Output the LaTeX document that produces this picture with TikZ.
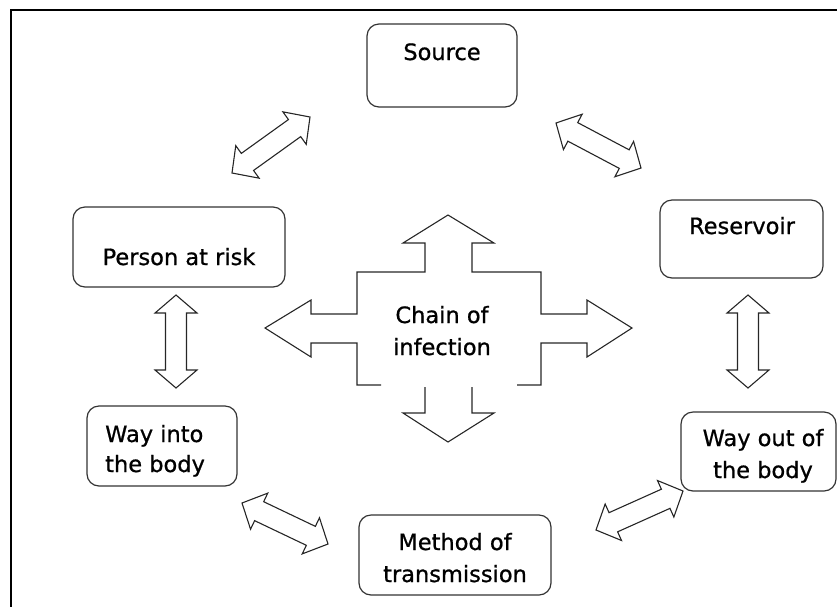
\documentclass[tikz,border=0pt]{standalone}
\usepackage{fontspec}
\setmainfont{DejaVu Sans}
\newfontfamily\lblfont[FakeBold=0.8]{DejaVu Sans}
\usetikzlibrary{calc}

\tikzset{
  box/.style={draw=black!80, line width=1.2pt, rounded corners=12pt, inner sep=0pt},
  lbl/.style={font=\lblfont\fontsize{22.5}{31}\selectfont, inner sep=0pt, anchor=base},
  lblw/.style={lbl, anchor=base west},
  blockline/.style={draw=black!85, line width=1.1pt, line join=miter, fill=white},
  frameline/.style={draw=black, line width=2pt},
}

% hollow double-headed block arrow between two named points
\def\bahead{19pt}
\def\bahw{20pt}
\def\basw{10.5pt}
\newcommand\blockarrow[2]{%
  \coordinate (ba1) at ($(#1)!\bahead!(#2)$);
  \coordinate (ba2) at ($(#2)!\bahead!(#1)$);
  \draw[blockline] (#1)
    -- ($(ba1)!\bahw!90:(#2)$) -- ($(ba1)!\basw!90:(#2)$)
    -- ($(ba2)!\basw!-90:(#1)$) -- ($(ba2)!\bahw!-90:(#1)$)
    -- (#2)
    -- ($(ba2)!\bahw!90:(#1)$) -- ($(ba2)!\basw!90:(#1)$)
    -- ($(ba1)!\basw!-90:(#2)$) -- ($(ba1)!\bahw!-90:(#2)$)
    -- cycle;
}

\begin{document}
\begin{tikzpicture}[x=1pt,y=-1pt]
\useasboundingbox (0,0) rectangle (837,606);

% outer frame
\draw[frameline] (10.5,620) -- (10.5,10) -- (850,10);

% boxes
\node[box, minimum width=150pt, minimum height=83pt] (source)  at (442,65.5)  {};
\node[box, minimum width=163pt, minimum height=78pt] (reserv)  at (741.5,239) {};
\node[box, minimum width=212pt, minimum height=80pt] (person)  at (179,247)   {};
\node[box, minimum width=150pt, minimum height=80pt] (wayin)   at (162,446)   {};
\node[box, minimum width=155pt, minimum height=79pt] (wayout)  at (758.5,451.5) {};
\node[box, minimum width=192pt, minimum height=80pt] (method)  at (455,555)   {};

% box texts
\node[lbl]  (tsource) at (442,60)  {Source};
\node[lbl]  (treserv) at (742,234) {Reservoir};
\node[lbl]  (tperson) at (179,265) {Person at risk};
\node[lblw] (twayinA) at (105,442) {Way into};
\node[lblw] (twayinB) at (105,472) {the body};
\node[lbl]  (twayoutA) at (763,446) {Way out of};
\node[lbl]  (twayoutB) at (763,478) {the body};
\node[lbl]  (tmethodA) at (455,550) {Method of};
\node[lbl]  (tmethodB) at (455,582) {transmission};

% central four-way arrow
\draw[blockline, fill=none] (381,385) -- (357,385) -- (357,343) -- (311,343) -- (311,357)
  -- (265,328) -- (311,300) -- (311,314) -- (357,314) -- (357,272) -- (425,272)
  -- (425,243) -- (403,243) -- (448,215) -- (494,243) -- (472,243) -- (472,272)
  -- (541,272) -- (541,314) -- (587,314) -- (587,300) -- (632,328) -- (587,357)
  -- (587,343) -- (541,343) -- (541,385) -- (517,385);
\draw[blockline, fill=none] (425,387) -- (425,413) -- (403,413) -- (448,442)
  -- (494,413) -- (472,413) -- (472,387);
\node[lbl] (tchainA) at (442,323) {Chain of};
\node[lbl] (tchainB) at (442,355) {infection};

% ends of the linking arrows
\coordinate (nwA) at (232,173);  \coordinate (nwB) at (310,117);
\coordinate (neA) at (556,123);  \coordinate (neB) at (641,168);
\coordinate (lvA) at (176,295);  \coordinate (lvB) at (176,388);
\coordinate (rvA) at (748,295);  \coordinate (rvB) at (748,388);
\coordinate (swA) at (242,503);  \coordinate (swB) at (328,544);
\coordinate (seA) at (596,530);  \coordinate (seB) at (683,491);

\blockarrow{nwA}{nwB}
\blockarrow{neA}{neB}
\blockarrow{swA}{swB}
\blockarrow{seA}{seB}
\def\bahead{18pt}
\def\bahw{21pt}
\blockarrow{lvA}{lvB}
\blockarrow{rvA}{rvB}
\end{tikzpicture}
\end{document}
